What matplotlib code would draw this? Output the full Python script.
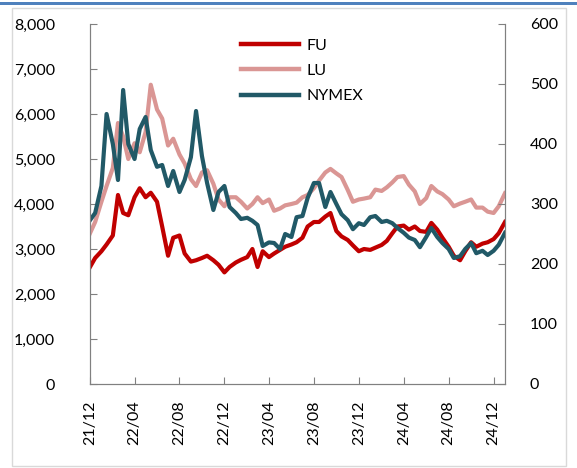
import matplotlib
matplotlib.use('Agg')
import matplotlib.pyplot as plt
import matplotlib.dates as mdates
from matplotlib.lines import Line2D
from matplotlib.patches import Rectangle
import pandas as pd

plt.rcParams['font.family'] = ['Lato', 'DejaVu Sans']

# semi-monthly sample dates, Dec 2021 - Jan 2025
dates = pd.date_range('2021-12-01', '2025-01-01', freq='SMS')

# FU, LU (left axis)
fu = [2600, 2800, 2950, 3100, 3300, 4200, 3800, 3750, 4150, 4350,
      4150, 4250, 4050, 3500, 2850, 3250, 3300, 2900, 2720, 2750,
      2800, 2850, 2750, 2650, 2480, 2600, 2700, 2760, 2820, 3000,
      2600, 2950, 2820, 2900, 2980, 3050, 3100, 3150, 3250, 3500,
      3600, 3600, 3720, 3800, 3400, 3280, 3200, 3080, 2950, 3000,
      2980, 3030, 3090, 3180, 3350, 3500, 3520, 3430, 3500, 3400,
      3380, 3580, 3430, 3250, 3050, 2850, 2750, 2950, 3150, 3050,
      3120, 3150, 3220, 3350, 3600]
lu = [3350, 3600, 4050, 4400, 4800, 5800, 5500, 5000, 5350, 5150,
      5600, 6650, 6100, 5900, 5300, 5450, 5100, 4900, 4550, 4400,
      4700, 4750, 4450, 4100, 3950, 4150, 4150, 4050, 3900, 4000,
      4150, 4020, 4100, 3850, 3900, 3970, 4000, 4030, 4150, 4200,
      4350, 4520, 4700, 4780, 4680, 4600, 4310, 4050, 4100, 4120,
      4150, 4320, 4290, 4370, 4480, 4600, 4620, 4430, 4280, 4000,
      4130, 4400, 4280, 4220, 4100, 3950, 4010, 4050, 4100, 3920,
      3920, 3830, 3800, 3950, 4240]
# NYMEX (right axis)
nymex = [273, 285, 330, 450, 400, 340, 490, 400, 375, 425,
         445, 390, 362, 365, 330, 355, 320, 340, 378, 455,
         380, 335, 290, 320, 330, 295, 285, 275, 277, 272,
         265, 230, 236, 235, 225, 250, 245, 278, 280, 310,
         335, 335, 295, 320, 300, 283, 273, 258, 268, 265,
         278, 280, 270, 272, 268, 260, 252, 244, 240, 228,
         245, 260, 245, 235, 225, 210, 213, 225, 235, 218,
         222, 215, 222, 232, 252]

fig = plt.figure(figsize=(5.77, 4.68), dpi=100)
ax = fig.add_axes([90/577, 1-384/468, 415/577, 360/468])
ax2 = ax.twinx()

ax.plot(dates, fu, color='#C00000', lw=3, label='FU')
ax.plot(dates, lu, color='#DA9694', lw=3, label='LU')
ax2.plot(dates, nymex, color='#215967', lw=3, label='NYMEX')

ax.set_ylim(0, 8000)
ax.set_yticks(range(0, 8001, 1000))
ax.set_yticklabels([f'{v:,}' for v in range(0, 8001, 1000)])
ax2.set_ylim(0, 600)
ax2.set_yticks(range(0, 601, 100))

ax.set_xlim(pd.Timestamp('2021-12-01'), pd.Timestamp('2025-01-01'))
ax.xaxis.set_major_locator(mdates.MonthLocator(bymonth=[4, 8, 12]))
ax.xaxis.set_major_formatter(mdates.DateFormatter('%y/%m'))
plt.setp(ax.get_xticklabels(), rotation=90)

for a in (ax, ax2):
    a.spines['top'].set_visible(False)
    for s in ('left', 'right', 'bottom'):
        a.spines[s].set_color('#808080')
ax.tick_params(axis='y', direction='in', length=5, color='#808080', labelsize=11.5, pad=25)
ax.tick_params(axis='x', direction='in', length=5, color='#808080', labelsize=11.5, pad=12)
ax2.tick_params(axis='y', direction='in', length=5, color='#808080', labelsize=11.5, pad=18)

handles = [Line2D([], [], color='#C00000', lw=3.2),
           Line2D([], [], color='#DA9694', lw=3.2),
           Line2D([], [], color='#215967', lw=3.2)]
ax2.legend(handles, ['FU', 'LU', 'NYMEX'], loc='upper left', bbox_to_anchor=(0.33, 1.0),
           frameon=False, fontsize=11.5, handlelength=3.6, labelspacing=0.7, handletextpad=0.5)

# page decoration: blue rule on top and light frame
fig.add_artist(Rectangle((0, 1-5/468), 1, 3/468, transform=fig.transFigure,
                         color='#4F81BD', lw=0))
fig.add_artist(Rectangle((12/577, 2/468), 554/577, 458/468, transform=fig.transFigure,
                         fill=False, edgecolor='#D9D9D9', lw=1))

fig.savefig('out.png', dpi=100)
